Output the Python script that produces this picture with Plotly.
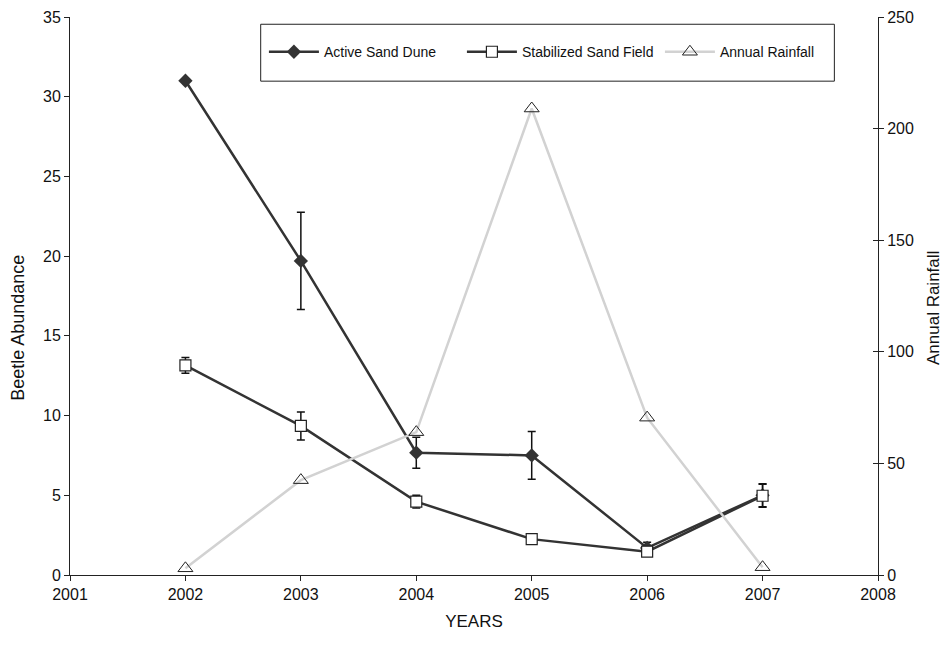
import plotly.graph_objects as go

years = [2002, 2003, 2004, 2005, 2006, 2007]
active = [31.0, 19.7, 7.67, 7.5, 1.7, 5.0]
active_err = [0.0, 3.05, 0.97, 1.5, 0.35, 0.72]
stabilized = [13.15, 9.35, 4.6, 2.25, 1.46, 4.97]
stabilized_err = [0.5, 0.88, 0.4, 0.0, 0.0, 0.72]
rainfall = [3.0, 42.5, 64.0, 209.0, 70.5, 3.5]

x_ticks = [2001, 2002, 2003, 2004, 2005, 2006, 2007, 2008]
left_ticks = [0, 5, 10, 15, 20, 25, 30, 35]
right_ticks = [0, 50, 100, 150, 200, 250]

FONT = "Liberation Sans, Arial, sans-serif"
DARK = "#333333"

fig = go.Figure()

fig.add_trace(go.Scatter(
    x=years, y=rainfall, name="Annual Rainfall", yaxis="y2",
    mode="lines+markers", legendrank=3,
    line=dict(color="#d2d2d2", width=2.5, dash="solid"),
    marker=dict(symbol="triangle-up-open", size=13, color="#222222",
                line=dict(width=1, color="#222222")),
))

fig.add_trace(go.Scatter(
    x=years, y=active, name="Active Sand Dune",
    mode="lines+markers", legendrank=1,
    line=dict(color=DARK, width=2.5),
    marker=dict(symbol="diamond", size=11, color=DARK),
    error_y=dict(type="data", array=active_err, visible=True,
                 color="#111111", thickness=1.5, width=4),
))

fig.add_trace(go.Scatter(
    x=years, y=stabilized, name="Stabilized Sand Field",
    mode="lines+markers", legendrank=2,
    line=dict(color=DARK, width=2.5),
    marker=dict(symbol="square", size=11, color="white",
                line=dict(width=1.2, color="#222222")),
    error_y=dict(type="data", array=stabilized_err, visible=True,
                 color="#111111", thickness=1.5, width=4),
))

fig.update_layout(
    width=951, height=645,
    margin=dict(l=62, r=81, t=9, b=78),
    paper_bgcolor="white", plot_bgcolor="white",
    font=dict(family=FONT, size=16, color="#111111"),
    showlegend=True,
    legend=dict(
        orientation="h", x=0.24, y=0.937, xanchor="left", yanchor="middle",
        bgcolor="rgba(0,0,0,0)", borderwidth=0,
        font=dict(family=FONT, size=14, color="#111111"),
        itemwidth=50, entrywidth=133, entrywidthmode="pixels",
    ),
    xaxis=dict(
        range=[2001, 2008], tickvals=x_ticks, ticktext=[str(v) for v in x_ticks],
        showgrid=False, zeroline=False, showline=True, linecolor="#222222", linewidth=1,
        ticks="outside", ticklen=5, tickcolor="#222222", automargin=False,
        title=dict(text="YEARS", font=dict(size=17), standoff=12),
        tickfont=dict(size=16),
    ),
    yaxis=dict(
        range=[0, 35], tickvals=left_ticks,
        showgrid=False, zeroline=False, showline=True, linecolor="#222222", linewidth=1,
        ticks="outside", ticklen=5, tickcolor="#222222", automargin=False,
        tickfont=dict(size=16),
    ),
    yaxis2=dict(
        range=[0, 250], tickvals=right_ticks, overlaying="y", side="right",
        showgrid=False, zeroline=False, showline=True, linecolor="#222222", linewidth=1,
        ticks="outside", ticklen=5, tickcolor="#222222", automargin=False,
        tickfont=dict(size=16),
    ),
    yaxis3=dict(
        range=[0, 250], tickvals=right_ticks, overlaying="y", side="right",
        showgrid=False, zeroline=False, showline=False, automargin=False,
        ticks="inside", ticklen=5, tickcolor="#222222", showticklabels=False,
    ),
    shapes=[dict(type="rect", xref="paper", yref="paper",
                 x0=0.236, x1=0.946, y0=0.885, y1=0.987,
                 line=dict(color="#222222", width=1), fillcolor="rgba(0,0,0,0)")],
    annotations=[
        dict(text="Beetle Abundance", textangle=-90, xref="paper", yref="paper",
             x=-0.0644, y=0.443, xanchor="center", yanchor="middle", showarrow=False,
             font=dict(family=FONT, size=18, color="#111111")),
        dict(text="Annual Rainfall", textangle=-90, xref="paper", yref="paper",
             x=1.069, y=0.478, xanchor="center", yanchor="middle", showarrow=False,
             font=dict(family=FONT, size=17, color="#111111")),
    ],
)

# invisible trace to activate yaxis3 (inside half of the right-axis cross ticks)
fig.add_trace(go.Scatter(x=[2001], y=[0], yaxis="y3", mode="markers",
                         marker=dict(opacity=0), showlegend=False, hoverinfo="skip"))

fig.write_html("out.html")
